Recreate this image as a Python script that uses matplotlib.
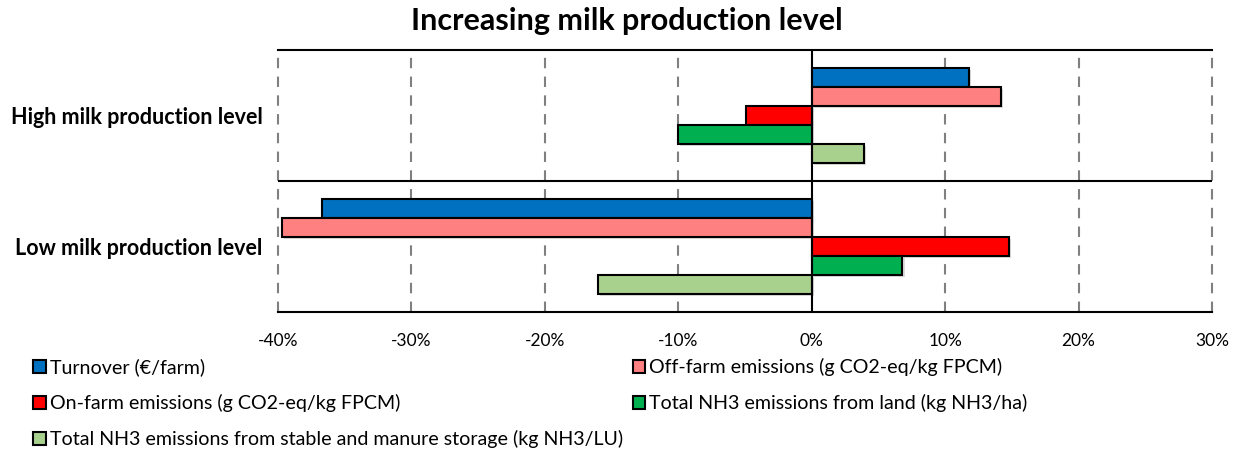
import matplotlib
matplotlib.use("Agg")
import matplotlib.pyplot as plt
import matplotlib.patheffects as pe
from matplotlib.patches import Patch
from matplotlib.ticker import FuncFormatter
import numpy as np

plt.rcParams['font.family'] = ['Lato', 'DejaVu Sans']

title = "Increasing milk production level"
categories = ["High milk production level", "Low milk production level"]
series_names = [
    "Turnover (€/farm)",
    "Off-farm emissions (g CO2-eq/kg FPCM)",
    "On-farm emissions (g CO2-eq/kg FPCM)",
    "Total NH3 emissions from land (kg NH3/ha)",
    "Total NH3 emissions from stable and manure storage (kg NH3/LU)",
]
series_colors = ["#0070C0", "#FF8080", "#FF0000", "#00B050", "#A9D18E"]
# values (fraction change) for [High, Low]
turnover = [0.118, -0.367]
off_farm = [0.142, -0.397]
on_farm = [-0.049, 0.148]
nh3_land = [-0.100, 0.068]
nh3_stable = [0.039, -0.160]
series_values = [turnover, off_farm, on_farm, nh3_land, nh3_stable]
x_ticks = [-0.4, -0.3, -0.2, -0.1, 0.0, 0.1, 0.2, 0.3]

fig = plt.figure(figsize=(12.36, 4.49), dpi=100)
ax = fig.add_axes([278/1236, 1-312/449, (1212-278)/1236, (312-50)/449])

n = len(series_values)
h = 0.72 / n
ypos = np.arange(len(categories))
shadow = [pe.SimplePatchShadow(offset=(1.5, -1.5), shadow_rgbFace='#999999', alpha=0.35), pe.Normal()]
handles = []
for i, (vals, col, name) in enumerate(zip(series_values, series_colors, series_names)):
    off = (i - (n - 1) / 2) * h
    bars = ax.barh(ypos + off, vals, height=h, color=col, edgecolor='black', linewidth=1.5, zorder=3)
    for b in bars:
        b.set_path_effects(shadow)
    handles.append(Patch(facecolor=col, edgecolor='black', linewidth=1.5, label=name))

ax.set_xlim(x_ticks[0], x_ticks[-1])
ax.set_ylim(len(categories) - 0.5, -0.5)
ax.set_xticks(x_ticks)
ax.xaxis.set_major_formatter(FuncFormatter(lambda v, p: f"{round(v*100):d}%"))
ax.set_yticks(ypos)
ax.set_yticklabels(categories, fontweight='bold', fontsize=15.5)
ax.tick_params(axis='both', length=0)
ax.tick_params(axis='x', pad=15, labelsize=12.5)
ax.tick_params(axis='y', pad=11)

for t in x_ticks:
    if abs(t) < 1e-9:
        ax.axvline(t, color='black', linewidth=1.5, zorder=4)
    else:
        ax.axvline(t, color='#808080', linewidth=1.5, linestyle=(0, (5, 4)), zorder=1, clip_on=False)
ax.axhline(0.5, color='black', linewidth=1.5, zorder=4)

for s in ['left', 'right']:
    ax.spines[s].set_visible(False)
for s in ['top', 'bottom']:
    ax.spines[s].set_color('black')
    ax.spines[s].set_linewidth(1.5)

fig.text(627/1236, 1-21/449, title, ha='center', va='center', fontsize=22, fontweight='bold')

order = [0, 2, 4, 1, 3]
leg = fig.legend([handles[i] for i in order], [series_names[i] for i in order],
                 ncol=2, loc='upper left', bbox_to_anchor=(33/1236, 1-358/449),
                 frameon=False, fontsize=14.1, handlelength=0.65, handleheight=0.65,
                 handletextpad=0.2, labelspacing=0.92, columnspacing=0.5, borderaxespad=0,
                 borderpad=0)

fig.savefig("out.png", dpi=100)
